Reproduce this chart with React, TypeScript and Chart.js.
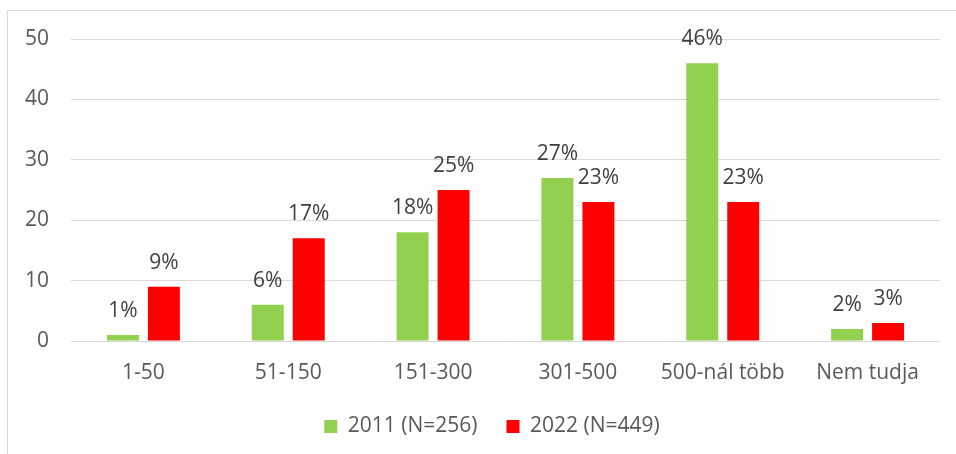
import React, { useEffect, useRef } from "react";
import { Chart, registerables } from "chart.js";

Chart.register(...registerables);

const categories = ["1-50", "51-150", "151-300", "301-500", "500-nál több", "Nem tudja"];
const series2011 = [1, 6, 18, 27, 46, 2];
const series2022 = [9, 17, 25, 23, 23, 3];
const seriesLabels = ["2011 (N=256)", "2022 (N=449)"];
const yTicks = [0, 10, 20, 30, 40, 50];

const FONT = "'Open Sans', 'DejaVu Sans', sans-serif";
const FS = 21;

const valueLabels = {
  id: "valueLabels",
  afterLayout(chart: any) {
    const l = chart.legend;
    if (l) {
      l.left += 18;
      l.right += 18;
    }
  },
  afterDatasetsDraw(chart: any) {
    const ctx = chart.ctx;
    ctx.save();
    ctx.font = `${FS}px ${FONT}`;
    ctx.fillStyle = "#404040";
    ctx.textAlign = "center";
    ctx.textBaseline = "alphabetic";
    chart.data.datasets.forEach((ds: any, di: number) => {
      const meta = chart.getDatasetMeta(di);
      meta.data.forEach((el: any, i: number) => {
        ctx.fillText(`${ds.data[i]}%`, el.x, el.y - 18);
      });
    });
    ctx.restore();
  },
};

export default function App() {
  const ref = useRef<HTMLCanvasElement | null>(null);
  useEffect(() => {
    if (!ref.current) return;
    const chart = new Chart(ref.current, {
      type: "bar",
      data: {
        labels: categories,
        datasets: [
          { label: seriesLabels[0], data: series2011, backgroundColor: "#92D050", categoryPercentage: 0.566, barPercentage: 0.78 },
          { label: seriesLabels[1], data: series2022, backgroundColor: "#FF0000", categoryPercentage: 0.566, barPercentage: 0.78 },
        ],
      },
      options: {
        animation: false,
        responsive: false,
        maintainAspectRatio: false,
        layout: { padding: { left: 0, right: 16, top: 28, bottom: 7 } },
        scales: {
          x: {
            grid: { display: false, drawTicks: false },
            border: { display: false },
            ticks: { color: "#595959", font: { size: FS, family: FONT }, padding: 19 },
            afterFit(scale: any) { scale.height = 46; },
          },
          y: {
            min: 0,
            max: 50,
            afterBuildTicks(scale: any) { scale.ticks = yTicks.map((v) => ({ value: v })); },
            grid: { color: "#D9D9D9", drawTicks: false, lineWidth: 1 },
            border: { display: false },
            ticks: { color: "#595959", font: { size: FS, family: FONT }, padding: 22 },
            afterFit(scale: any) {
              scale.width = 63;
              scale.paddingTop = 0;
              scale.paddingBottom = 0;
            },
          },
        },
        plugins: {
          legend: {
            position: "bottom",
            labels: { boxWidth: 13, boxHeight: 13, padding: 29, color: "#595959", font: { size: FS, family: FONT } },
          },
          tooltip: { enabled: false },
        },
      },
      plugins: [valueLabels],
    });
    return () => chart.destroy();
  }, []);
  return (
    <div style={{ position: "fixed", left: 0, top: 0, width: 956, height: 454, overflow: "hidden", background: "#fff" }}>
      <div style={{ position: "absolute", left: 7, top: 10, width: 970, height: 470, border: "1px solid #D9D9D9" }}>
        <canvas ref={ref} width={948} height={443} style={{ display: "block", width: 948, height: 443 }} />
      </div>
    </div>
  );
}
